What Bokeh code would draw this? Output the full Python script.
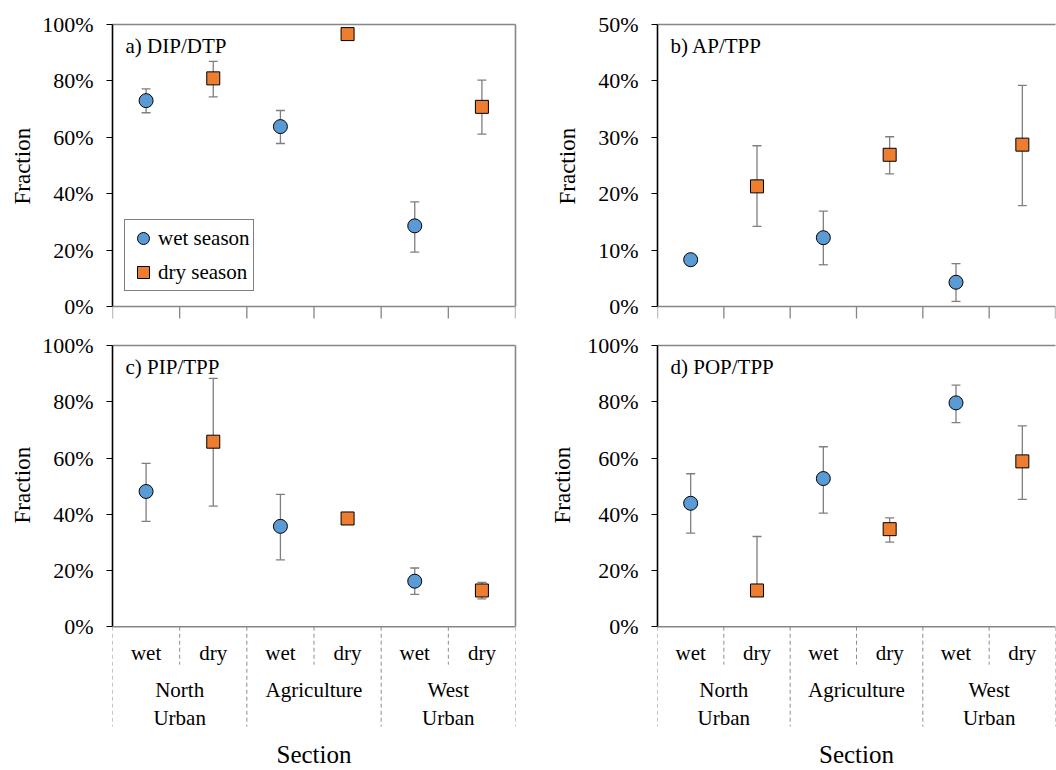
from bokeh.plotting import figure
from bokeh.layouts import column, row
from bokeh.models import (Range1d, LinearAxis, FixedTicker, NumeralTickFormatter,
                          Span, Label, Legend, LegendItem, Title)
from bokeh.embed import file_html
from bokeh.resources import INLINE
from bokeh.core.properties import value

# ---------------- data ----------------
sections = ["North\nUrban", "Agriculture", "West\nUrban"]
seasons = ["wet", "dry"]
panel_titles = ["a) DIP/DTP", "b) AP/TPP", "c) PIP/TPP", "d) POP/TPP"]
y_max = [1.0, 0.5, 1.0, 1.0]
y_step = [0.2, 0.1, 0.2, 0.2]

# a) DIP/DTP
a_wet = [0.730, 0.638, 0.286]
a_wet_lo = [0.687, 0.578, 0.193]
a_wet_hi = [0.772, 0.695, 0.371]
a_dry = [0.809, 0.966, 0.708]
a_dry_lo = [0.743, 0.966, 0.611]
a_dry_hi = [0.869, 0.966, 0.803]

# b) AP/TPP
b_wet = [0.083, 0.122, 0.043]
b_wet_lo = [0.083, 0.074, 0.009]
b_wet_hi = [0.083, 0.169, 0.076]
b_dry = [0.213, 0.269, 0.287]
b_dry_lo = [0.142, 0.235, 0.179]
b_dry_hi = [0.285, 0.301, 0.392]

# c) PIP/TPP
c_wet = [0.481, 0.357, 0.162]
c_wet_lo = [0.375, 0.238, 0.115]
c_wet_hi = [0.581, 0.471, 0.209]
c_dry = [0.658, 0.385, 0.129]
c_dry_lo = [0.429, 0.385, 0.099]
c_dry_hi = [0.883, 0.385, 0.158]

# d) POP/TPP
d_wet = [0.439, 0.527, 0.796]
d_wet_lo = [0.333, 0.404, 0.726]
d_wet_hi = [0.544, 0.640, 0.859]
d_dry = [0.129, 0.347, 0.588]
d_dry_lo = [0.129, 0.301, 0.453]
d_dry_hi = [0.321, 0.387, 0.714]

# ---------------- style ----------------
FONT = "Liberation Serif"
BLUE = "#5B9BD5"
ORANGE = "#ED7D31"
BAR = "#7F7F7F"
BORDER = "#868686"
SEP = "#8C8C8C"
PLOT_PX = 282.0   # pixel height of the 0..ymax region

n_sec = len(sections)
n_cat = n_sec * len(seasons)
x_wet = [2 * i + 0.5 for i in range(n_sec)]
x_dry = [2 * i + 1.5 for i in range(n_sec)]
bounds_x = list(range(n_cat + 1))


def make_panel(k, wet, wet_lo, wet_hi, dry, dry_lo, dry_hi, left_side, bottom_row,
               ylabel_standoff, legend=False):
    ymax = y_max[k]
    px = ymax / PLOT_PX
    if bottom_row:
        height, mb_top, mb_bottom = 450, 25, 42
        ymin = -101 * px
        ylabel_offset = 204
    else:
        height, mb_top, mb_bottom = 320, 24, 0
        ymin = -14 * px
        ylabel_offset = 116
    if left_side:
        width, mb_left, mb_right = 530, 112, 15
    else:
        width, mb_left, mb_right = 526, 127, 1

    p = figure(width=width, height=height, output_backend="svg", toolbar_location=None,
               x_range=Range1d(0, n_cat), y_range=Range1d(ymin, ymax),
               x_axis_type=None, y_axis_type=None,
               min_border_left=mb_left, min_border_right=mb_right,
               min_border_top=mb_top, min_border_bottom=mb_bottom,
               background_fill_color="white", border_fill_color="white")
    p.outline_line_color = None
    p.xgrid.visible = False
    p.ygrid.visible = False

    nt = int(round(ymax / y_step[k]))
    yticks = [y_step[k] * i for i in range(nt + 1)]
    yax = LinearAxis(ticker=FixedTicker(ticks=yticks), formatter=NumeralTickFormatter(format="0%"),
                     bounds=(0, ymax),
                     axis_line_color="black", axis_line_width=1.6,
                     major_tick_line_color="black", major_tick_out=6, major_tick_in=0,
                     minor_tick_line_color=None,
                     major_label_text_font=FONT, major_label_text_font_size="22px",
                     major_label_text_color="black", major_label_standoff=13)
    p.add_layout(yax, "left")
    p.add_layout(Title(text="Fraction", align="left", offset=ylabel_offset,
                       standoff=ylabel_standoff, text_font=FONT, text_font_size="23px",
                       text_font_style="normal", text_color="black"), "left")

    top = LinearAxis(ticker=FixedTicker(ticks=[]), axis_line_color=BORDER, axis_line_width=1.6,
                     major_tick_line_color=None, minor_tick_line_color=None)
    p.add_layout(top, "above")
    if left_side:
        rgt = LinearAxis(ticker=FixedTicker(ticks=[]), bounds=(0, ymax), axis_line_color=BORDER,
                         axis_line_width=1.6, major_tick_line_color=None, minor_tick_line_color=None)
        p.add_layout(rgt, "right")

    # category axis line at 0
    p.add_layout(Span(location=0, dimension="width", line_color=BORDER, line_width=1.6))

    if not bottom_row:
        p.segment(x0=bounds_x, y0=[0] * len(bounds_x), x1=bounds_x, y1=[-12 * px] * len(bounds_x),
                  line_color=BORDER, line_width=1.3)
    else:
        xax = LinearAxis(ticker=FixedTicker(ticks=[]), axis_line_color=None,
                         major_tick_line_color=None, minor_tick_line_color=None,
                         axis_label="Section", axis_label_text_font=FONT,
                         axis_label_text_font_size="25px", axis_label_text_font_style="normal",
                         axis_label_text_color="black", axis_label_standoff=13)
        p.add_layout(xax, "below")
        inner = [b for b in bounds_x if b % 2 == 1]
        outer = [b for b in bounds_x if b % 2 == 0]
        p.segment(x0=inner, y0=[0] * len(inner), x1=inner, y1=[-38 * px] * len(inner),
                  line_color=SEP, line_width=1, line_dash="4 3")
        p.segment(x0=outer, y0=[0] * len(outer), x1=outer, y1=[-100 * px] * len(outer),
                  line_color=SEP, line_width=1, line_dash="4 3")
        season_x = x_wet + x_dry
        season_t = [seasons[0]] * n_sec + [seasons[1]] * n_sec
        p.text(x=season_x, y=[-26 * px] * len(season_x), text=season_t,
               text_font=value(FONT), text_font_size="21px", text_color="black",
               text_align="center", text_baseline="middle")
        sec_x = [2 * i + 1 for i in range(n_sec)]
        p.text(x=sec_x, y=[-51 * px] * n_sec, text=sections,
               text_font=value(FONT), text_font_size="21px", text_color="black",
               text_align="center", text_baseline="top", text_line_height=1.2)

    # error bars
    xs = x_wet + x_dry
    los = wet_lo + dry_lo
    his = wet_hi + dry_hi
    p.segment(x0=xs, y0=los, x1=xs, y1=his, line_color=BAR, line_width=1.3)
    p.scatter(x=xs + xs, y=los + his, marker="dash", size=9, line_color=BAR, line_width=1.3)

    r_wet = p.scatter(x=x_wet, y=wet, marker="circle", size=14, fill_color=BLUE,
                      line_color="black", line_width=1)
    r_dry = p.scatter(x=x_dry, y=dry, marker="square", size=13, fill_color=ORANGE,
                      line_color="black", line_width=1)

    p.add_layout(Label(x=0, y=ymax, x_offset=13, y_offset=-21, text=panel_titles[k],
                       text_font=FONT, text_font_size="21px", text_color="black",
                       text_baseline="middle"))

    if legend:
        lg = Legend(items=[LegendItem(label=seasons[0] + " season", renderers=[r_wet]),
                           LegendItem(label=seasons[1] + " season", renderers=[r_dry])],
                    location=(12, 29), orientation="vertical",
                    padding=3, spacing=4, margin=0,
                    glyph_width=30, glyph_height=30, label_standoff=0, label_height=20,
                    label_text_font=FONT, label_text_font_size="21px", label_text_color="black",
                    border_line_color="black", border_line_width=1,
                    background_fill_color="white", background_fill_alpha=1)
        p.add_layout(lg)
    return p


pa = make_panel(0, a_wet, a_wet_lo, a_wet_hi, a_dry, a_dry_lo, a_dry_hi, True, False, 9, legend=True)
pb = make_panel(1, b_wet, b_wet_lo, b_wet_hi, b_dry, b_dry_lo, b_dry_hi, False, False, 31)
pc = make_panel(2, c_wet, c_wet_lo, c_wet_hi, c_dry, c_dry_lo, c_dry_hi, True, True, 9)
pd = make_panel(3, d_wet, d_wet_lo, d_wet_hi, d_dry, d_dry_lo, d_dry_hi, False, True, 20)

layout = column(row(pa, pb), row(pc, pd))
open("out.html", "w").write(file_html(layout, INLINE))
